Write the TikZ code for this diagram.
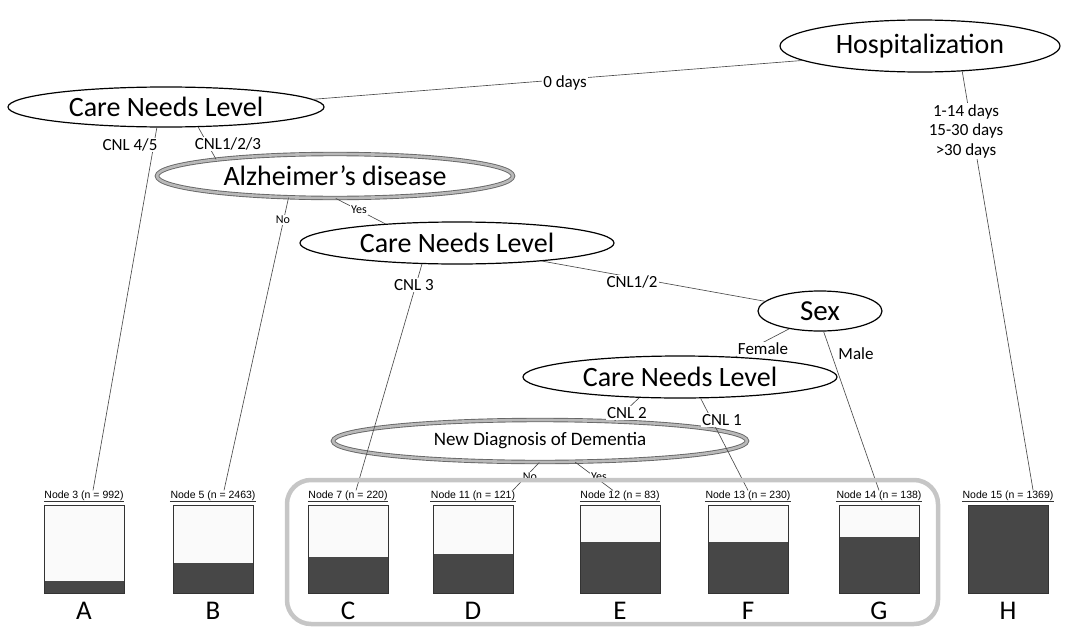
\documentclass[tikz,border=0pt]{standalone}
\usepackage{fontspec}
\setmainfont{Carlito}
\newfontfamily\arialf{Liberation Sans}
\usetikzlibrary{shapes.geometric,calc}
\newcommand{\leafnode}[5]{%
  \node[nodelab] (#1) at (#2+40,496) {#4};
  \draw[black!80,line width=0.5pt] (#1.south west) -- (#1.south east);
  \fill[gray!4] (#2,505) rectangle (#2+80,593);
  \fill[black!72] (#2,#3) rectangle (#2+80,593);
  \draw[leaf] (#2,505) rectangle (#2+80,593);
  \node[letter] (#1let) at (#2+40,611) {#5};
}
\begin{document}
\begin{tikzpicture}[x=1pt,y=-1pt,
  conn/.style={draw=black!70, line width=0.65pt},
  split/.style={ellipse, draw=black, line width=1.2pt, inner sep=0pt},
  hilite/.style={ellipse, draw=black!60, double=gray!55, double distance=2.6pt, line width=0.9pt, inner sep=0pt},
  bigtxt/.style={font=\fontsize{28}{32}\selectfont},
  elabel/.style={font=\fontsize{17}{20}\selectfont, fill=white, inner sep=1pt},
  smlabel/.style={font=\fontsize{12}{14}\selectfont, fill=white, inner sep=1pt},
  nodelab/.style={font=\arialf\fontsize{10.5}{12}\selectfont, inner sep=0.5pt},
  leaf/.style={draw=black!80, line width=0.8pt},
  letter/.style={font=\fontsize{27}{30}\selectfont},
  grpframe/.style={draw=gray!45, line width=4.5pt, rounded corners=24pt, minimum width=651pt, minimum height=144pt, inner sep=0pt}
]
\useasboundingbox (0,0) rectangle (1068,629);

% split nodes
\node[split, minimum width=280, minimum height=52, font=\fontsize{28}{32}\selectfont] (hosp) at (920,46) {Hospitalization};
\node[split, bigtxt, minimum width=316, minimum height=40] (cnlA) at (166,107) {Care Needs Level};
\node[hilite, bigtxt, minimum width=356, minimum height=44] (alz) at (335,176) {Alzheimer’s disease};
\node[split, bigtxt, minimum width=314, minimum height=42] (cnlB) at (457,243) {Care Needs Level};
\node[split, minimum width=124, minimum height=40, font=\fontsize{29}{32}\selectfont] (sex) at (820,311) {Sex};
\node[split, bigtxt, minimum width=314, minimum height=42] (cnlC) at (680,377) {Care Needs Level};
\node[hilite, minimum width=414, minimum height=42, font=\fontsize{19}{22}\selectfont] (ndd) at (540,441) {New Diagnosis of Dementia};

% leaves
\leafnode{n3}{44}{581}{Node 3 (n = 992)}{A}
\leafnode{n5}{173}{563}{Node 5 (n = 2463)}{B}
\leafnode{n7}{308}{557}{Node 7 (n = 220)}{C}
\leafnode{n11}{433}{554}{Node 11 (n = 121)}{D}
\leafnode{n12}{580}{542}{Node 12 (n = 83)}{E}
\leafnode{n13}{708}{542}{Node 13 (n = 230)}{F}
\leafnode{n14}{839}{537}{Node 14 (n = 138)}{G}
\leafnode{n15}{968}{505}{Node 15 (n = 1369)}{H}

% connectors
\draw[conn] (hosp.187) -- (cnlA.3);
\draw[conn] (hosp.-31) -- ([xshift=-21pt]n15.north east);
\draw[conn] (cnlA.-114) -- ([xshift=9pt]n3.north);
\draw[conn] (cnlA.-32) -- (alz.172);
\draw[conn] (alz.-155) -- ([xshift=11pt]n5.north);
\draw[conn] (alz.-88) -- (cnlB.165);
\draw[conn] (cnlB.-149) -- ([xshift=8pt]n7.north);
\draw[conn] (cnlB.-12) -- (sex.170);
\draw[conn] (sex.-150) -- (cnlC.20);
\draw[conn] (sex.-80) -- (n14.north);
\draw[conn] (cnlC.-153) -- (ndd.15);
\draw[conn] (cnlC.-46) -- (n13.north);
\draw[conn] (ndd.-92) -- ([xshift=-3pt]n11.north east);
\draw[conn] (ndd.-31) -- ([xshift=-7pt]n12.north);

% edge labels
\node[elabel] (l0) at (565,83) {0 days};
\node[elabel, align=center, font=\fontsize{17}{19.5}\selectfont] (lhosp) at (966,131) {1-14 days\\15-30 days\\>30 days};
\node[elabel] (l45) at (130,145) {CNL 4/5};
\node[elabel] (l123) at (228,144) {CNL1/2/3};
\node[smlabel] (lno1) at (283,220) {No};
\node[smlabel] (lyes1) at (359,210) {Yes};
\node[elabel] (l3) at (414,285) {CNL 3};
\node[elabel] (l12) at (632,282) {CNL1/2};
\node[elabel] (lfem) at (763,349) {Female};
\node[elabel] (lmale) at (856,354) {Male};
\node[elabel] (l2) at (627,413) {CNL 2};
\node[elabel] (l1) at (722,420) {CNL 1};
\node[smlabel] (lno2) at (530,477) {No};
\node[smlabel] (lyes2) at (599,477) {Yes};

% group frame
\node[grpframe] (grp) at (612.5,552) {};
\end{tikzpicture}
\end{document}
